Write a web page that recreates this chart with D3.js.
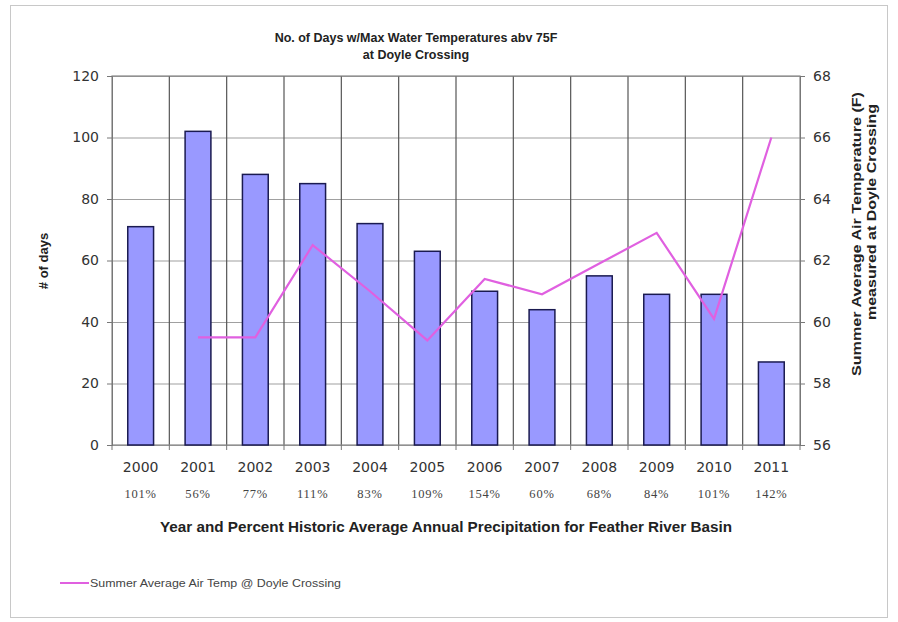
<!DOCTYPE html>
<html>
<head>
<meta charset="utf-8">
<script src="https://cdn.jsdelivr.net/npm/d3@7"></script>
<style>
  body { margin: 0; background: #fff; }
  svg { display: block; font-family: "Liberation Sans", Arial, sans-serif; }
</style>
</head>
<body>
<div id="chart"></div>
<script>
// data
const years = ["2000","2001","2002","2003","2004","2005","2006","2007","2008","2009","2010","2011"];
const precip = ["101%","56%","77%","111%","83%","109%","154%","60%","68%","84%","101%","142%"];
const daysAbove75 = [71, 102, 88, 85, 72, 63, 50, 44, 55, 49, 49, 27];
const airTemp = [null, 59.5, 59.5, 62.5, 61.0, 59.4, 61.4, 60.9, 61.9, 62.9, 60.1, 66.0];
const leftTicks = [0, 20, 40, 60, 80, 100, 120];
const rightTicks = [56, 58, 60, 62, 64, 66, 68];

const W = 898, H = 622;
const plot = { left: 112, right: 800, top: 76, bottom: 445 };
const tickFont = "DejaVu Sans, Verdana, sans-serif";

const svg = d3.select("#chart").append("svg")
  .attr("width", W).attr("height", H);

// outer frame
svg.append("rect")
  .attr("x", 10.5).attr("y", 5.5)
  .attr("width", 877).attr("height", 612)
  .attr("fill", "#fff").attr("stroke", "#c8c8c8");

const x = d3.scaleBand().domain(years).range([plot.left, plot.right]).padding(0);
const yL = d3.scaleLinear().domain([0, 120]).range([plot.bottom, plot.top]);
const yR = d3.scaleLinear().domain([56, 68]).range([plot.bottom, plot.top]);

// horizontal gridlines
svg.append("g")
  .attr("transform", `translate(${plot.left},0)`)
  .call(d3.axisLeft(yL).tickValues(leftTicks).tickSize(-(plot.right - plot.left)).tickFormat(""))
  .call(g => g.select(".domain").remove())
  .call(g => g.selectAll("line").attr("stroke", "#a0a0a0").attr("stroke-width", 1.2));

// vertical gridlines at category boundaries
svg.append("g").selectAll("line")
  .data(years.slice(1))
  .join("line")
  .attr("x1", d => x(d)).attr("x2", d => x(d))
  .attr("y1", plot.top).attr("y2", plot.bottom)
  .attr("stroke", "#555").attr("stroke-width", 1.2);

// plot frame
svg.append("rect")
  .attr("x", plot.left).attr("y", plot.top)
  .attr("width", plot.right - plot.left).attr("height", plot.bottom - plot.top)
  .attr("fill", "none").attr("stroke", "#888").attr("stroke-width", 1.2);

// bars
const bw = x.bandwidth() * 0.45;
svg.append("g").selectAll("rect")
  .data(daysAbove75)
  .join("rect")
  .attr("x", (d, i) => x(years[i]) + (x.bandwidth() - bw) / 2)
  .attr("y", d => yL(d))
  .attr("width", bw)
  .attr("height", d => yL(0) - yL(d))
  .attr("fill", "#9999ff")
  .attr("stroke", "#1a1a50")
  .attr("stroke-width", 1.5);

// air temp line
const line = d3.line()
  .defined(d => d != null)
  .x((d, i) => x(years[i]) + x.bandwidth() / 2)
  .y(d => yR(d));
svg.append("path")
  .datum(airTemp)
  .attr("d", line)
  .attr("fill", "none")
  .attr("stroke", "#e060e0")
  .attr("stroke-width", 2.2);

// left axis
svg.append("g")
  .attr("transform", `translate(${plot.left},0)`)
  .call(d3.axisLeft(yL).tickValues(leftTicks).tickSize(5).tickPadding(8))
  .call(g => g.select(".domain").attr("stroke", "#777"))
  .call(g => g.selectAll("line").attr("stroke", "#777"))
  .call(g => g.selectAll("text").attr("font-size", 14).attr("fill", "#333")
    .attr("font-family", tickFont));

// right axis
svg.append("g")
  .attr("transform", `translate(${plot.right},0)`)
  .call(d3.axisRight(yR).tickValues(rightTicks).tickSize(5).tickPadding(8))
  .call(g => g.select(".domain").attr("stroke", "#777"))
  .call(g => g.selectAll("line").attr("stroke", "#777"))
  .call(g => g.selectAll("text").attr("font-size", 14).attr("fill", "#333")
    .attr("font-family", tickFont));

// bottom tick marks between categories
svg.append("g").selectAll("line")
  .data(years.concat(["end"]))
  .join("line")
  .attr("x1", (d, i) => plot.left + i * x.step())
  .attr("x2", (d, i) => plot.left + i * x.step())
  .attr("y1", plot.bottom).attr("y2", plot.bottom + 5)
  .attr("stroke", "#777");

// year labels
svg.append("g").selectAll("text")
  .data(years)
  .join("text")
  .attr("x", d => x(d) + x.bandwidth() / 2)
  .attr("y", 472)
  .attr("text-anchor", "middle")
  .attr("font-family", tickFont)
  .attr("font-size", 14)
  .attr("fill", "#333")
  .text(d => d);

// precipitation labels
svg.append("g").selectAll("text")
  .data(precip)
  .join("text")
  .attr("x", (d, i) => x(years[i]) + x.bandwidth() / 2)
  .attr("y", 498)
  .attr("text-anchor", "middle")
  .attr("font-family", "Liberation Serif, Times New Roman, serif")
  .attr("font-size", 12.5)
  .attr("letter-spacing", 0.8)
  .attr("fill", "#444")
  .text(d => d);

// titles
const title = svg.append("text")
  .attr("x", 416).attr("y", 42)
  .attr("text-anchor", "middle")
  .attr("font-size", 12.5).attr("font-weight", "bold").attr("fill", "#222");
title.append("tspan").attr("x", 416).text("No. of Days w/Max Water Temperatures abv 75F");
title.append("tspan").attr("x", 416).attr("dy", 17).text("at Doyle Crossing");

svg.append("text")
  .attr("x", 446).attr("y", 532)
  .attr("text-anchor", "middle")
  .attr("font-size", 14).attr("font-weight", "bold").attr("fill", "#222")
  .attr("textLength", 572).attr("lengthAdjust", "spacingAndGlyphs")
  .text("Year and Percent Historic Average Annual Precipitation for Feather River Basin");

svg.append("text")
  .attr("transform", "translate(48,261) rotate(-90)")
  .attr("text-anchor", "middle")
  .attr("font-size", 13).attr("font-weight", "bold").attr("fill", "#222")
  .text("# of days");

svg.append("text")
  .attr("transform", "translate(861,234) rotate(-90)")
  .attr("text-anchor", "middle")
  .attr("font-size", 12.5).attr("font-weight", "bold").attr("fill", "#222")
  .attr("textLength", 284).attr("lengthAdjust", "spacingAndGlyphs")
  .text("Summer Average Air Temperature (F)");
svg.append("text")
  .attr("transform", "translate(876,212) rotate(-90)")
  .attr("text-anchor", "middle")
  .attr("font-size", 12.5).attr("font-weight", "bold").attr("fill", "#222")
  .attr("textLength", 216).attr("lengthAdjust", "spacingAndGlyphs")
  .text("measured at Doyle Crossing");

// legend
svg.append("line")
  .attr("x1", 60).attr("x2", 89)
  .attr("y1", 583).attr("y2", 583)
  .attr("stroke", "#e060e0").attr("stroke-width", 2);
svg.append("text")
  .attr("x", 90).attr("y", 587)
  .attr("font-size", 10.5).attr("fill", "#444")
  .attr("textLength", 251).attr("lengthAdjust", "spacingAndGlyphs")
  .text("Summer Average Air Temp @ Doyle Crossing");
</script>
</body>
</html>
